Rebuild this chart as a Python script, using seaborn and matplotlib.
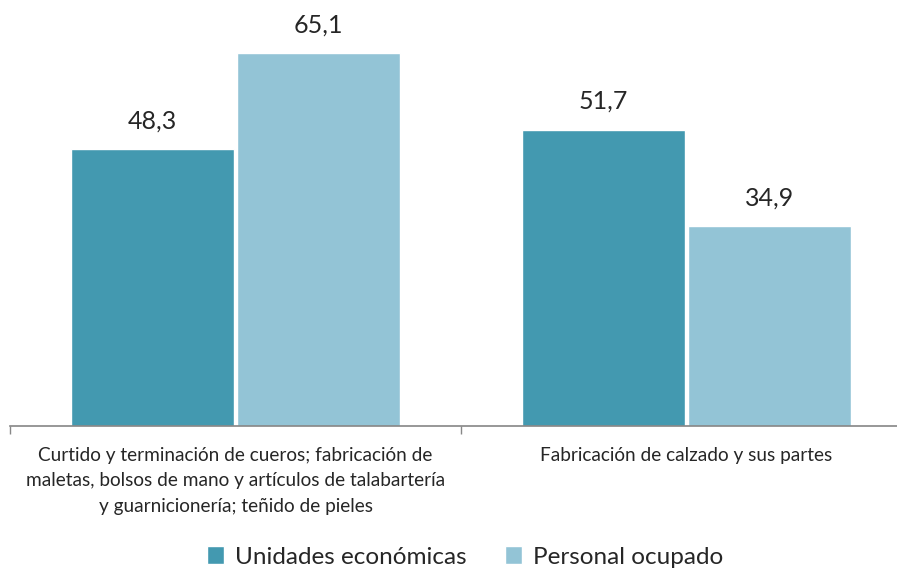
import matplotlib
matplotlib.use("Agg")
import matplotlib.pyplot as plt
import pandas as pd
import seaborn as sns

categories = ["Curtido y terminación de cueros; fabricación de\nmaletas, bolsos de mano y artículos de talabartería\ny guarnicionería; teñido de pieles",
              "Fabricación de calzado y sus partes"]
series = ["Unidades económicas", "Personal ocupado"]
unidades = [48.3, 51.7]
personal = [65.1, 34.9]
colors = ["#4399B0", "#93C4D6"]

df = pd.DataFrame({
    "categoria": categories * 2,
    "serie": [series[0]] * 2 + [series[1]] * 2,
    "valor": unidades + personal,
})

sns.set_theme(style="white")
plt.rcParams["font.family"] = ["Lato", "DejaVu Sans"]

fig = plt.figure(figsize=(8.97, 5.72), dpi=100)
ax = fig.add_axes([10 / 897, 1 - 426 / 572, 902 / 897, 400 / 572])

sns.barplot(data=df, x="categoria", y="valor", hue="serie", palette=colors,
            width=0.735, gap=0.018, ax=ax, legend=True, saturation=1)

ax.set_ylim(0, 69.8)
ax.set_xlim(-0.5, 1.5)
ax.set_xlabel("")
ax.set_ylabel("")
ax.set_yticks([])
ax.set_xticks([-0.5, 0.5, 1.5], minor=True)
ax.set_xticks([0, 1])
ax.set_xticklabels(categories, fontsize=13.7, linespacing=1.6)
ax.tick_params(axis="x", which="major", length=0, pad=15)
ax.tick_params(axis="x", which="minor", length=6, width=1, color="#888888", bottom=True)
for s in ["top", "right", "left"]:
    ax.spines[s].set_visible(False)
ax.spines["bottom"].set_color("#858585")
ax.spines["bottom"].set_linewidth(1.2)

for cont in ax.containers:
    ax.bar_label(cont, labels=[f"{v:.1f}".replace(".", ",") for v in cont.datavalues],
                 padding=12, fontsize=18)

handles, labels = ax.get_legend_handles_labels()
ax.legend(handles, labels, loc="center", bbox_to_anchor=(465 / 897, 1 - 557 / 572),
          bbox_transform=fig.transFigure, ncol=2, frameon=False, fontsize=17.5,
          handlelength=0.7, handleheight=0.7, handletextpad=0.45, columnspacing=1.6)

fig.savefig("out.png", dpi=100)
